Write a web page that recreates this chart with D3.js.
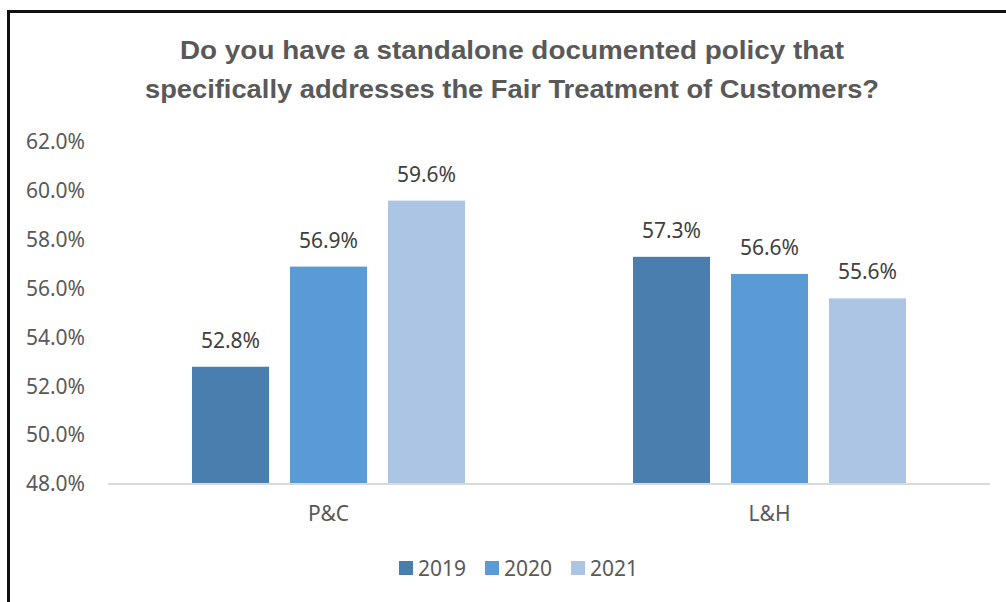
<!DOCTYPE html>
<html>
<head>
<meta charset="utf-8">
<script src="https://cdn.jsdelivr.net/npm/d3@7"></script>
<style>
  html, body { margin: 0; padding: 0; background: #ffffff; }
  svg { display: block; }
</style>
</head>
<body>
<svg id="chart" width="1006" height="602"></svg>
<script>
// Survey results by line of business and year
const categories = ["P&C", "L&H"];
const years = ["2019", "2020", "2021"];
const values2019 = [52.8, 57.3];
const values2020 = [56.9, 56.6];
const values2021 = [59.6, 55.6];
const yTicks = [48, 50, 52, 54, 56, 58, 60, 62];
const titleLines = [
  "Do you have a standalone documented policy that",
  "specifically addresses the Fair Treatment of Customers?"
];

const seriesValues = { "2019": values2019, "2020": values2020, "2021": values2021 };
const colors = { "2019": "#4a7eaf", "2020": "#5b9bd5", "2021": "#adc5e5" };

const W = 1006, H = 602;
const margin = { left: 108, right: 16, top: 142, bottom: 118 };
const svg = d3.select("#chart");
const bodyFont = "'Noto Sans', 'Open Sans', sans-serif";
const bodySize = 21;

// frame (left and top edges)
svg.append("path")
  .attr("d", `M8.5,${H} L8.5,11.5 L${W},11.5`)
  .attr("fill", "none")
  .attr("stroke", "#111")
  .attr("stroke-width", 3);

// title
const title = svg.append("g");
titleLines.forEach((line, i) => {
  title.append("text")
    .attr("x", 512)
    .attr("y", 59 + i * 39)
    .attr("text-anchor", "middle")
    .attr("font-family", "'Liberation Sans', Arial, sans-serif")
    .attr("font-weight", "bold")
    .attr("font-size", 26)
    .attr("fill", "#595959")
    .attr("textLength", i === 0 ? 664 : 734)
    .attr("lengthAdjust", "spacingAndGlyphs")
    .text(line);
});

const x0 = d3.scaleBand()
  .domain(categories)
  .range([margin.left, W - margin.right])
  .padding(0);

const x1 = d3.scaleBand()
  .domain(years)
  .range([0, x0.bandwidth()])
  .paddingInner(0.214)
  .paddingOuter(0.857);

const y = d3.scaleLinear()
  .domain([48, 62])
  .range([H - margin.bottom, margin.top]);

// y axis labels (no axis line, no ticks)
const yAxis = svg.append("g")
  .attr("transform", `translate(${margin.left - 23},0)`)
  .call(d3.axisLeft(y).tickValues(yTicks).tickSize(0).tickPadding(0)
    .tickFormat(d => d3.format(".1f")(d) + "%"));
yAxis.select(".domain").remove();
yAxis.selectAll("text")
  .attr("font-family", bodyFont)
  .attr("font-size", bodySize)
  .attr("fill", "#595959");

// bars
const groups = svg.append("g").selectAll("g")
  .data(categories)
  .join("g")
  .attr("transform", d => `translate(${x0(d)},0)`);

groups.selectAll("rect")
  .data((c, ci) => years.map(yr => ({ yr, v: seriesValues[yr][ci] })))
  .join("rect")
  .attr("x", d => x1(d.yr))
  .attr("y", d => y(d.v))
  .attr("width", x1.bandwidth())
  .attr("height", d => y(48) - y(d.v))
  .attr("fill", d => colors[d.yr]);

// data labels
groups.selectAll("text.val")
  .data((c, ci) => years.map(yr => ({ yr, v: seriesValues[yr][ci] })))
  .join("text")
  .attr("class", "val")
  .attr("x", d => x1(d.yr) + x1.bandwidth() / 2)
  .attr("y", d => y(d.v) - 19)
  .attr("text-anchor", "middle")
  .attr("font-family", bodyFont)
  .attr("font-size", bodySize)
  .attr("fill", "#404040")
  .text(d => d.v.toFixed(1) + "%");

// baseline
svg.append("line")
  .attr("x1", margin.left).attr("x2", W - margin.right)
  .attr("y1", y(48)).attr("y2", y(48))
  .attr("stroke", "#d9d9d9")
  .attr("stroke-width", 2);

// category labels
const xAxis = svg.append("g")
  .attr("transform", `translate(0,${y(48)})`)
  .call(d3.axisBottom(x0).tickSize(0).tickPadding(22));
xAxis.select(".domain").remove();
xAxis.selectAll("text")
  .attr("font-family", bodyFont)
  .attr("font-size", bodySize)
  .attr("fill", "#595959");

// legend
const legendX = d3.scalePoint().domain(years).range([399, 571]);
const legend = svg.append("g").selectAll("g")
  .data(years)
  .join("g")
  .attr("transform", d => `translate(${legendX(d)},561)`);
legend.append("rect")
  .attr("width", 14).attr("height", 14)
  .attr("fill", d => colors[d]);
legend.append("text")
  .attr("x", 19).attr("y", 14.5)
  .attr("font-family", bodyFont)
  .attr("font-size", bodySize)
  .attr("fill", "#595959")
  .text(d => d);
</script>
</body>
</html>
